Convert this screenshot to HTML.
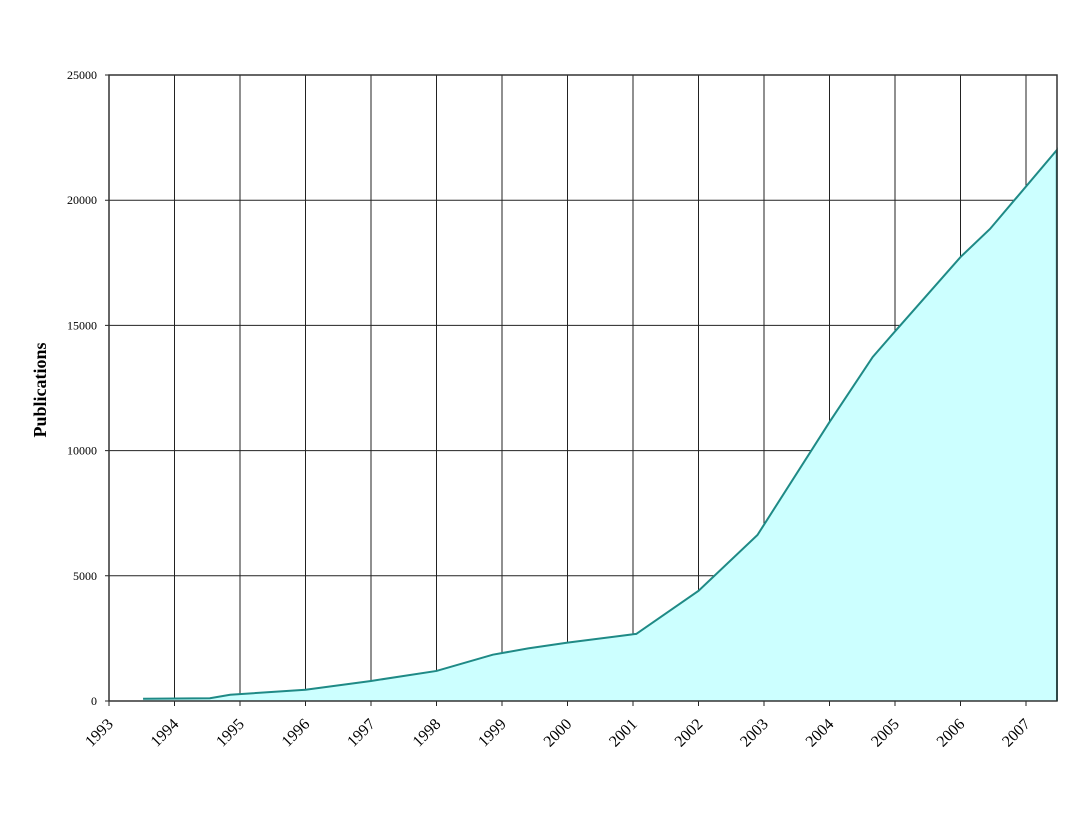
<!DOCTYPE html>
<html><head><meta charset="utf-8"><style>
body{margin:0;background:#fff;}
svg text{font-family:"Liberation Serif",serif;fill:#000;}
</style></head><body>
<svg id="chart" width="1075" height="820" viewBox="0 0 1075 820" xmlns="http://www.w3.org/2000/svg">
<rect x="0" y="0" width="1075" height="820" fill="#fff"/>
<g id="grid"></g>
<path id="area" fill="#ccffff" stroke="none"/>
<polyline id="line" fill="none" stroke="#1f8a86" stroke-width="2"/>
<rect x="109" y="75" width="948" height="626" fill="none" stroke="#333" stroke-width="1.5"/>
<g id="yticks"></g>
<g id="xticks"></g>
<text transform="translate(46,390) rotate(-90)" text-anchor="middle" font-size="18" font-weight="bold">Publications</text>
</svg>
<script>
const years=[1993.52,1994.54,1994.85,1996,1997,1998,1998.86,1999.4,2000,2001.05,2002,2002.9,2004,2004.66,2005.03,2006,2006.45,2007.47];
const values=[90,110,250,450,800,1200,1850,2100,2330,2680,4400,6630,11140,13740,14850,17730,18850,22000];
const yTicks=[0,5000,10000,15000,20000,25000];
const xTicks=[1993,1994,1995,1996,1997,1998,1999,2000,2001,2002,2003,2004,2005,2006,2007];
const L=109,R=1057,T=75,B=701;
const xs=y=>L+(y-1993)*65.5;
const ys=v=>B-(v/25000)*(B-T);
const NS="http://www.w3.org/2000/svg";
const grid=document.getElementById('grid');
function mk(tag,attrs,parent){const e=document.createElementNS(NS,tag);for(const k in attrs)e.setAttribute(k,attrs[k]);parent.appendChild(e);return e;}
yTicks.forEach(v=>{
 const g=mk('line',{x1:L-4,x2:R,y1:ys(v),y2:ys(v),stroke:'#222','stroke-width':1},grid);
 
 
 const t=mk('text',{x:97,y:ys(v)+4,'text-anchor':'end','font-size':12},document.getElementById('yticks'));
 t.textContent=v;
 
 
});
xTicks.forEach(y=>{
 const x=xs(y);
 const g=mk('line',{x1:x,x2:x,y1:T,y2:B+5,stroke:'#222','stroke-width':1},grid);
 
 
 const t=mk('text',{transform:`translate(${x+5},${B+24}) rotate(-45)`,'text-anchor':'end','font-size':16},document.getElementById('xticks'));
 t.textContent=y;
 
 
});
const pts=years.map((y,i)=>[xs(y),ys(values[i])]);
document.getElementById('line').setAttribute('points',pts.map(p=>p.join(',')).join(' ')+` ${R},${B}`);
let d=`M${pts[0][0]},${B} `+pts.map(p=>'L'+p.join(',')).join(' ')+` L${R},${B} Z`;
document.getElementById('area').setAttribute('d',d);
</script>
</body></html>
